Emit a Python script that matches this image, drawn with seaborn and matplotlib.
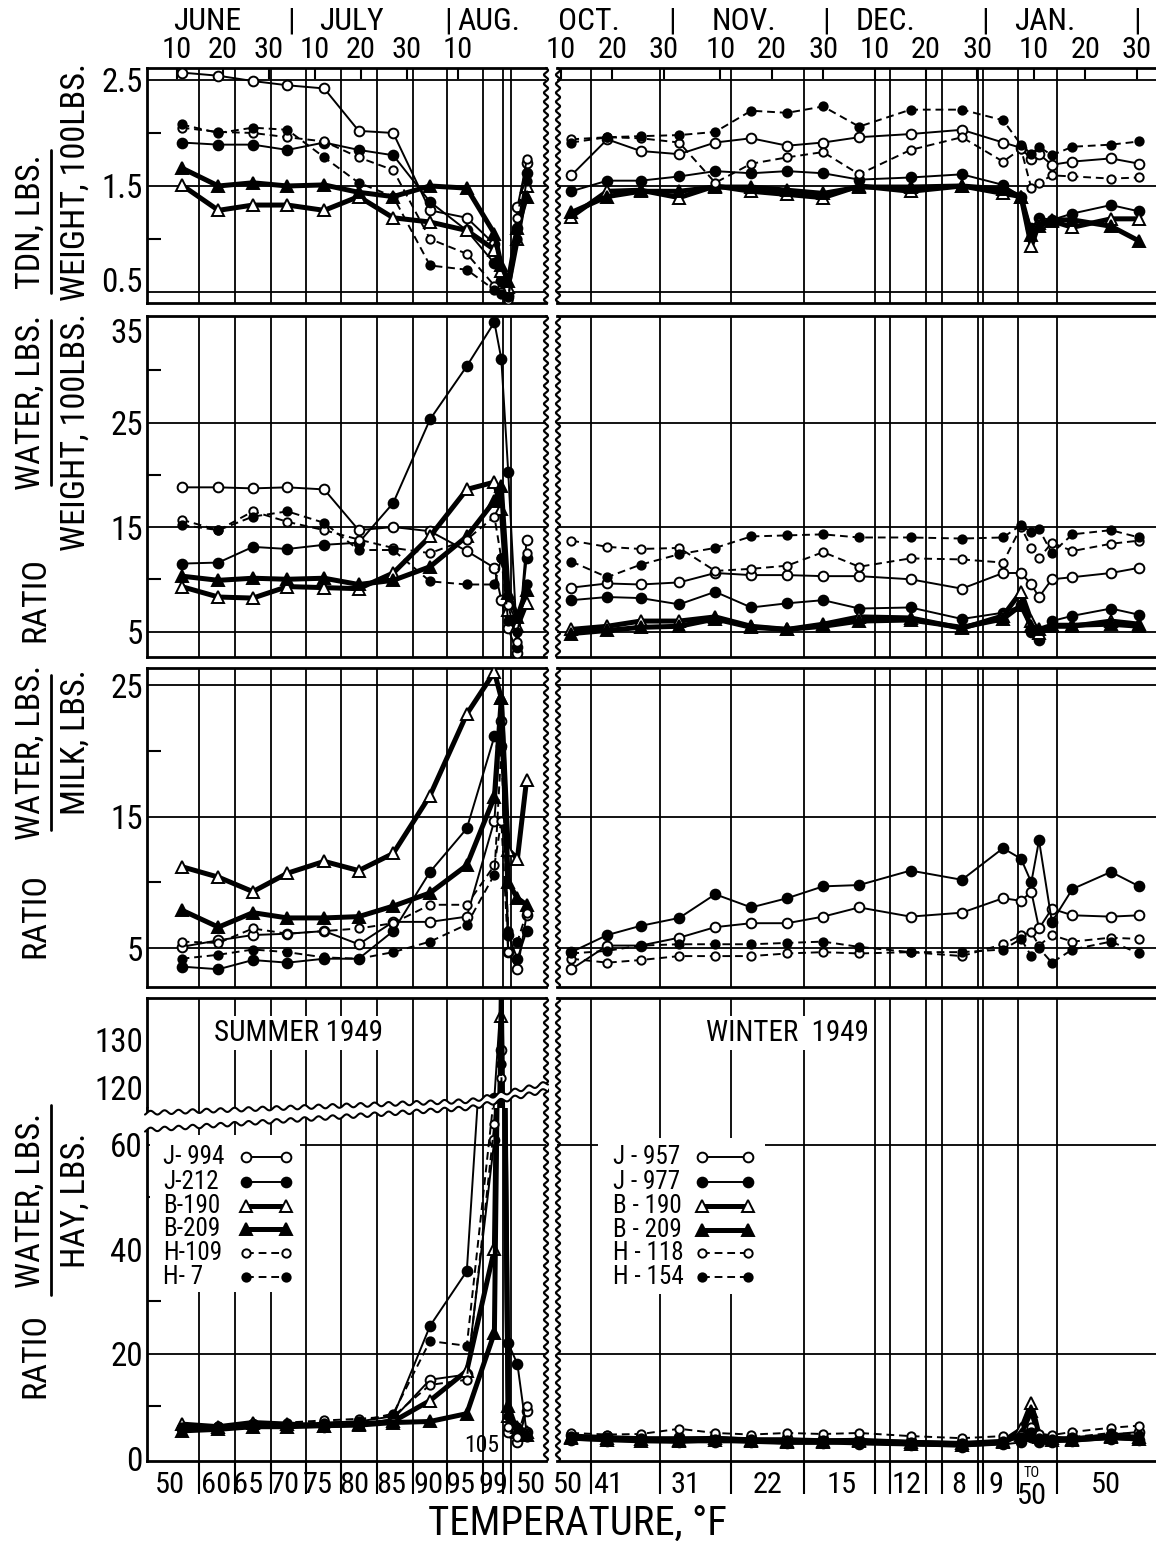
import numpy as np
import pandas as pd
import matplotlib
matplotlib.use('Agg')
import matplotlib.pyplot as plt
import seaborn as sns
from matplotlib import font_manager
from matplotlib.lines import Line2D
from matplotlib.patches import Rectangle, Polygon

# sampling days: summer counted from June 10, winter from Oct 10
summer_days = [1, 9, 16.5, 24, 32, 39.5, 47, 55, 63, 69, 70.5, 72, 74, 76]
winter_days = [2, 9, 15.5, 23, 30, 37, 44, 51, 58, 68, 78, 86, 89.5, 91.5, 93, 95.5, 99.5, 107, 112.5]

summer_cows = ['J-994', 'J-212', 'B-190', 'B-209', 'H-109', 'H-7']
winter_cows = ['J-957', 'J-977', 'B-190', 'B-209', 'H-118', 'H-154']

# TDN lbs per 100 lbs body weight
tdn_summer = {
    'J-994': [2.57, 2.54, 2.49, 2.45, 2.42, 2.02, 2.00, 1.27, 1.20, 0.95, 0.60, 0.45, 1.30, 1.72],
    'J-212': [1.91, 1.89, 1.89, 1.84, 1.91, 1.84, 1.79, 1.35, 1.08, 0.77, 0.60, 0.47, 1.10, 1.62],
    'B-190': [1.51, 1.27, 1.32, 1.32, 1.27, 1.40, 1.20, 1.16, 1.08, 0.90, 0.70, 0.55, 1.00, 1.50],
    'B-209': [1.67, 1.50, 1.53, 1.50, 1.51, 1.44, 1.40, 1.50, 1.48, 1.05, 0.75, 0.60, 1.10, 1.40],
    'H-109': [2.05, 2.01, 2.00, 1.96, 1.92, 1.77, 1.65, 1.00, 0.86, 0.56, 0.50, 0.42, 1.20, 1.75],
    'H-7':   [2.08, 2.00, 2.05, 2.03, 1.77, 1.53, 1.40, 0.75, 0.71, 0.52, 0.48, 0.45, 1.00, 1.55],
}
tdn_winter = {
    'J-957': [1.60, 1.94, 1.83, 1.80, 1.91, 1.95, 1.88, 1.91, 1.96, 1.99, 2.03, 1.91, 1.86, 1.75, 1.80, 1.70, 1.73, 1.76, 1.71],
    'J-977': [1.45, 1.55, 1.55, 1.59, 1.64, 1.62, 1.64, 1.62, 1.56, 1.58, 1.61, 1.51, 1.40, 1.10, 1.20, 1.18, 1.24, 1.32, 1.26],
    'B-190': [1.21, 1.45, 1.46, 1.39, 1.50, 1.45, 1.42, 1.39, 1.50, 1.45, 1.50, 1.43, 1.40, 0.93, 1.15, 1.17, 1.11, 1.19, 1.19],
    'B-209': [1.25, 1.40, 1.45, 1.45, 1.49, 1.49, 1.46, 1.43, 1.49, 1.49, 1.50, 1.47, 1.40, 1.04, 1.12, 1.18, 1.18, 1.12, 0.98],
    'H-118': [1.94, 1.96, 1.95, 1.91, 1.53, 1.71, 1.77, 1.82, 1.61, 1.84, 1.96, 1.73, 1.85, 1.48, 1.53, 1.60, 1.59, 1.57, 1.58],
    'H-154': [1.91, 1.96, 1.97, 1.98, 2.01, 2.21, 2.19, 2.25, 2.06, 2.22, 2.22, 2.12, 1.89, 1.80, 1.87, 1.79, 1.87, 1.89, 1.92],
}

# water lbs per 100 lbs body weight
water_wt_summer = {
    'J-994': [18.8, 18.8, 18.7, 18.8, 18.6, 14.7, 15.0, 14.6, 12.7, 11.1, 8.0, 5.3, 2.9, 13.8],
    'J-212': [11.5, 11.6, 13.1, 12.9, 13.3, 13.5, 17.3, 25.3, 30.4, 34.6, 31.1, 20.3, 3.5, 12.0],
    'B-190': [9.3, 8.3, 8.2, 9.3, 9.2, 9.1, 10.6, 14.1, 18.6, 19.3, 16.7, 7.1, 5.5, 7.7],
    'B-209': [10.3, 9.9, 10.1, 10.0, 10.1, 9.5, 9.9, 11.2, 14.1, 17.5, 18.9, 8.7, 6.4, 9.0],
    'H-109': [15.7, 14.7, 16.5, 15.5, 14.7, 13.8, 13.0, 12.5, 13.8, 16.0, 12.0, 7.5, 4.0, 12.5],
    'H-7':   [15.2, 14.7, 16.0, 16.5, 15.4, 12.8, 12.8, 9.8, 9.5, 9.5, 12.0, 6.0, 5.0, 9.5],
}
water_wt_winter = {
    'J-957': [9.2, 9.6, 9.5, 9.7, 10.6, 10.4, 10.4, 10.3, 10.3, 10.0, 9.1, 10.6, 10.6, 9.5, 8.3, 10.0, 10.2, 10.6, 11.1],
    'J-977': [8.0, 8.3, 8.2, 7.6, 8.8, 7.3, 7.7, 8.0, 7.2, 7.3, 6.2, 6.8, 7.5, 5.0, 4.2, 6.0, 6.5, 7.2, 6.6],
    'B-190': [5.2, 5.5, 6.0, 6.0, 6.4, 5.5, 5.2, 5.7, 6.4, 6.3, 5.3, 6.5, 8.8, 6.0, 4.9, 5.5, 5.5, 6.0, 5.7],
    'B-209': [4.8, 5.1, 5.4, 5.5, 6.2, 5.4, 5.2, 5.5, 6.0, 6.1, 5.4, 6.2, 7.5, 5.5, 5.2, 5.6, 5.6, 5.7, 5.5],
    'H-118': [13.7, 13.1, 12.9, 13.0, 10.8, 11.0, 11.3, 12.6, 11.2, 12.0, 11.9, 11.6, 15.0, 13.0, 12.0, 13.5, 12.7, 13.4, 13.7],
    'H-154': [11.7, 10.2, 11.4, 12.4, 13.0, 14.1, 14.2, 14.3, 14.0, 14.0, 13.9, 14.0, 15.2, 14.5, 14.8, 12.5, 14.3, 14.7, 14.0],
}

# water lbs per lb milk
water_milk_summer = {
    'J-994': [5.1, 5.6, 6.0, 6.1, 6.3, 5.3, 7.0, 7.0, 7.4, 14.7, 22.3, 4.7, 3.4, 7.5],
    'J-212': [3.6, 3.4, 4.1, 3.9, 4.2, 4.2, 6.3, 10.8, 14.1, 21.1, 20.4, 6.0, 4.2, 6.3],
    'B-190': [11.2, 10.4, 9.3, 10.7, 11.6, 10.9, 12.2, 16.6, 22.8, 26.0, 24.0, 12.5, 11.8, 17.8],
    'B-209': [7.9, 6.6, 7.7, 7.3, 7.3, 7.4, 8.2, 9.2, 11.3, 16.5, 24.0, 10.0, 8.8, 8.3],
    'H-109': [5.5, 5.4, 6.5, 6.1, 6.3, 6.5, 6.9, 8.3, 8.3, 11.3, 14.7, 4.7, 5.5, 7.7],
    'H-7':   [4.2, 4.5, 4.9, 4.7, 4.3, 4.2, 4.7, 5.5, 6.8, 10.6, 20.2, 6.3, 5.5, 6.3],
}
water_milk_winter = {
    'J-957': [3.4, 5.2, 5.2, 5.8, 6.6, 6.9, 6.9, 7.4, 8.1, 7.4, 7.7, 8.8, 8.6, 9.3, 6.5, 8.0, 7.5, 7.4, 7.5],
    'J-977': [4.7, 6.0, 6.7, 7.3, 9.1, 8.1, 8.8, 9.7, 9.8, 10.9, 10.2, 12.6, 11.8, 10.0, 13.2, 7.0, 9.5, 10.8, 9.7],
    'H-118': [4.2, 3.9, 4.1, 4.4, 4.4, 4.4, 4.6, 4.7, 4.6, 4.7, 4.4, 5.3, 6.0, 6.2, 5.2, 6.0, 5.5, 5.8, 5.7],
    'H-154': [4.6, 4.8, 5.2, 5.3, 5.3, 5.3, 5.4, 5.5, 5.1, 4.7, 4.7, 4.9, 5.7, 4.4, 5.0, 3.9, 4.9, 5.5, 4.6],
}

# water lbs per lb hay
water_hay_summer = {
    'J-994': [5.5, 5.8, 6.0, 6.3, 6.0, 6.3, 7.5, 15.0, 16.0, 61, 128, 5, 3, 9],
    'J-212': [5.8, 6.0, 6.5, 6.3, 6.8, 7.0, 8.0, 25.3, 35.8, 118, 140, 22, 18, 5],
    'B-190': [6.5, 6.0, 6.8, 6.5, 6.2, 6.5, 7.0, 11.0, 16.7, 40, 135, 8, 6, 5],
    'B-209': [5.2, 5.5, 6.0, 6.0, 6.2, 6.3, 6.8, 7.0, 8.5, 24, 140, 10, 5, 4.5],
    'H-109': [6.0, 6.2, 6.5, 6.8, 7.2, 7.5, 8.0, 14.0, 15.0, 64, 122, 6, 4, 10],
    'H-7':   [5.8, 6.0, 6.3, 6.5, 6.8, 7.0, 8.5, 22.4, 21.5, 70, 125, 8, 6, 4],
}
water_hay_winter = {
    'J-957': [4.5, 4.2, 4.0, 4.0, 4.0, 3.8, 3.8, 3.6, 3.5, 3.3, 3.0, 3.2, 3.8, 5.0, 4.0, 3.8, 4.0, 4.5, 5.0],
    'J-977': [3.5, 3.3, 3.2, 3.0, 3.0, 3.0, 2.8, 2.8, 2.6, 2.4, 2.2, 2.6, 3.0, 4.0, 3.0, 3.0, 3.2, 3.6, 3.4],
    'B-190': [4.0, 3.8, 3.6, 3.5, 3.8, 3.4, 3.3, 3.3, 3.4, 3.0, 2.8, 3.2, 5.5, 10.5, 4.5, 3.8, 3.6, 4.2, 4.0],
    'B-209': [3.8, 3.5, 3.3, 3.2, 3.5, 3.2, 3.0, 3.0, 3.2, 2.7, 2.5, 3.0, 4.5, 9.0, 4.0, 3.5, 3.4, 4.0, 3.6],
    'H-118': [4.8, 4.5, 4.6, 5.6, 4.8, 4.5, 4.8, 4.6, 4.8, 4.2, 3.8, 4.2, 4.5, 6.0, 4.6, 4.4, 5.0, 5.8, 6.2],
    'H-154': [4.2, 4.0, 3.8, 3.8, 3.6, 3.6, 3.5, 3.4, 3.2, 3.0, 2.8, 3.2, 4.0, 5.0, 3.8, 3.6, 4.0, 4.8, 4.5],
}

# period boundaries (vertical rules)
summer_grid = [4.8, 12.6, 20.4, 28, 35.7, 43.5, 51.3, 58.7, 66.5, 70.9, 72.6]
winter_grid = [5.8, 19.3, 33.1, 47.3, 61.1, 64, 71, 74.1, 81.1, 82.1, 88.9, 96.5]

summer_temp_pos = [-1.5, 8.5, 15.4, 23.5, 30.7, 38.5, 46.5, 54.6, 61.7, 68.7, 77]
summer_temps = ['50', '60', '65', '70', '75', '80', '85', '90', '95', '99', '50']
winter_temp_pos = [1.4, 9.1, 24.3, 40.1, 54.5, 67.3, 77.4, 84.6, 91.6, 106]
winter_temps = ['50', '41', '31', '22', '15', '12', '8', '9', '', '50']

summer_date_pos = [0, 10, 20, 30, 40, 50, 61]
summer_date_lbl = ['10', '20', '30', '10', '20', '30', '10']
winter_date_pos = [0, 10, 20, 31, 41, 51, 61, 71, 81, 92, 102, 112]
winter_date_lbl = ['10', '20', '30'] * 4
summer_months = [('JUNE', 6.5), ('|', 24.8), ('JULY', 38), ('|', 59), ('AUG.', 67.8)]
winter_months = [('OCT.', 5.4), ('|', 21.6), ('NOV.', 35.6), ('|', 51.6), ('DEC.', 63.2),
                 ('|', 82.5), ('JAN.', 94.2), ('|', 112)]

line_styles = [
    dict(linestyle='-', linewidth=1.4, marker='o', markerfacecolor='white', markersize=7),
    dict(linestyle='-', linewidth=1.4, marker='o', markerfacecolor='black', markersize=7),
    dict(linestyle='-', linewidth=3.6, marker='^', markerfacecolor='white', markersize=8),
    dict(linestyle='-', linewidth=3.6, marker='^', markerfacecolor='black', markersize=8),
    dict(linestyle=(0, (4, 2.5)), linewidth=1.4, marker='o', markerfacecolor='white', markersize=6),
    dict(linestyle=(0, (4, 2.5)), linewidth=1.4, marker='o', markerfacecolor='black', markersize=6),
]

sns.set_theme(style='white')
# the original lettering is very narrow, use a narrow face when one exists
fonts = font_manager.fontManager.ttflist
names = {f.name for f in fonts}
narrow = [n for n in ['Liberation Sans Narrow', 'Roboto Condensed', 'Open Sans Condensed',
                      'DejaVu Sans Condensed', 'Noto Sans Condensed'] if n in names]
stretched = [f.name for f in fonts if f.stretch not in ('normal', 'medium')
             and f.name in ('DejaVu Sans', 'Noto Sans', 'Open Sans', 'Roboto')]
if narrow:
    fam, k = narrow[0], 0.95
    plt.rcParams['font.family'] = [fam, 'DejaVu Sans']
elif stretched:
    fam, k = stretched[0], 0.86
    plt.rcParams['font.family'] = [fam, 'DejaVu Sans']
    plt.rcParams['font.stretch'] = 'condensed'
else:
    fam, k = 'DejaVu Sans', 0.74
    plt.rcParams['font.family'] = [fam]
plt.rcParams['text.color'] = 'black'
plt.rcParams['xtick.color'] = 'black'
plt.rcParams['ytick.color'] = 'black'

W, H = 1156, 1541
fig = plt.figure(figsize=(W / 100, H / 100), dpi=100)
fig.patch.set_facecolor('white')


def box(x0, y0, x1, y1):
    return [x0 / W, 1 - y1 / H, (x1 - x0) / W, (y1 - y0) / H]


LX = (147, 546)
RX = (557, 1170)
LXLIM = ((LX[0] - 177) / 4.6, (LX[1] - 177) / 4.6)
RXLIM = ((RX[0] - 561) / 5.14, (RX[1] - 561) / 5.14)


def draw_series(ax, days, values, style):
    df = pd.DataFrame({'day': days, 'value': values})
    sns.lineplot(data=df, x='day', y='value', ax=ax, color='black',
                 markeredgecolor='black', markeredgewidth=1.4,
                 estimator=None, sort=False, zorder=3, **style)


def setup(ax, side, ylim, hlines, major=None, labels=None, minor=None):
    ax.set_facecolor('white')
    ax.set_xlim(LXLIM if side == 'L' else RXLIM)
    ax.set_ylim(ylim)
    ax.set_xlabel('')
    ax.set_ylabel('')
    for s in ax.spines.values():
        s.set_linewidth(2)
        s.set_color('black')
    ax.spines['right' if side == 'L' else 'left'].set_visible(False)
    for g in (summer_grid if side == 'L' else winter_grid):
        ax.axvline(g, color='black', lw=1.3, zorder=1)
    for h in hlines:
        ax.axhline(h, color='black', lw=1.3, zorder=1)
    ax.set_xticks([])
    if side == 'L' and major is not None:
        ax.set_yticks(major)
        ax.set_yticklabels(labels, fontsize=25 * k)
        ax.tick_params(axis='y', which='major', length=0, pad=3)
        if minor:
            ax.set_yticks(minor, minor=True)
            ax.tick_params(axis='y', which='minor', direction='in', length=10, width=1.5, left=True)
    else:
        ax.set_yticks([])


def wave_x(x_px, y0, y1, amp=2.0, period=9):
    ys = np.arange(y0, y1 + 0.5, 0.5)
    xs = x_px + amp * np.sin(2 * np.pi * (ys - y0) / period)
    fig.add_artist(Line2D(xs / W, 1 - ys / H, color='black', lw=1.6, zorder=6))


rows = [
    ((68, 303), (0.396, 2.613), [2.5, 1.5, 0.5], [2.5, 1.5, 0.5], ['2.5', '1.5', '0.5'], [2.0, 1.0],
     tdn_summer, tdn_winter),
    ((316, 657), (2.56, 35.2), [25, 15, 5], [35, 25, 15, 5], ['35', '25', '15', '5'], [30, 20, 10],
     water_wt_summer, water_wt_winter),
    ((668, 987), (2.05, 26.3), [25, 15, 5], [25, 15, 5], ['25', '15', '5'], [20, 10],
     water_milk_summer, water_milk_winter),
]

style_of = {c: line_styles[i] for i, c in enumerate(summer_cows)}
style_of_w = {c: line_styles[i] for i, c in enumerate(winter_cows)}

left_axes = []
top_axes = []
for (y0, y1), ylim, hl, major, lbls, minor, sdata, wdata in rows:
    axl = fig.add_axes(box(LX[0], y0, LX[1], y1))
    for cow, vals in sdata.items():
        draw_series(axl, summer_days, vals, style_of[cow])
    setup(axl, 'L', ylim, hl, major, lbls, minor)
    left_axes.append(axl)
    axr = fig.add_axes(box(RX[0], y0, RX[1], y1))
    for cow, vals in wdata.items():
        draw_series(axr, winter_days, vals, style_of_w[cow])
    setup(axr, 'R', ylim, hl)
    wave_x(546, y0, y1)
    wave_x(558, y0, y1)
    if not top_axes:
        top_axes = [axl, axr]

# keep the end labels of neighbouring rows apart, as in the original
left_axes[0].get_yticklabels()[-1].set_verticalalignment('baseline')
left_axes[1].get_yticklabels()[0].set_verticalalignment('top')

# row 4: broken axis, upper 120-130 part and lower 0-60 part
r4_up, r4_lo = (998, 1108), (1108, 1461)
ax4 = {}
for side, X, data, days, sty in [('L', LX, water_hay_summer, summer_days, style_of),
                                 ('R', RX, water_hay_winter, winter_days, style_of_w)]:
    up = fig.add_axes(box(X[0], r4_up[0], X[1], r4_up[1]))
    lo = fig.add_axes(box(X[0], r4_lo[0], X[1], r4_lo[1]))
    for cow, vals in data.items():
        draw_series(up, days, vals, sty[cow])
        draw_series(lo, days, vals, sty[cow])
    setup(up, side, (115.83, 138.75), [], [130, 120], ['130', '120'], None)
    setup(lo, side, (-0.57, 67.05), [60, 20], [60, 40, 20, 0], ['60', '40', '20', '0'], [50, 30, 10])
    up.spines['bottom'].set_visible(False)
    lo.spines['top'].set_visible(False)
    ax4[side] = (up, lo)
    wave_x(546 if side == 'L' else 558, r4_up[0], r4_lo[1])

# top date scale
for ax, pos, lbl, months in [(top_axes[0], summer_date_pos, summer_date_lbl, summer_months),
                             (top_axes[1], winter_date_pos, winter_date_lbl, winter_months)]:
    ax.set_xticks(pos)
    ax.set_xticklabels(lbl, fontsize=23 * k)
    ax.tick_params(axis='x', which='major', top=True, bottom=False, labeltop=True,
                   labelbottom=False, direction='in', length=8, width=1.5, pad=3)
    for txt, d in months:
        ax.text(d, 1.2, txt, transform=ax.get_xaxis_transform(), ha='center', va='center',
                fontsize=24 * k)

# bottom temperature scale
for side, pos, lbl in [('L', summer_temp_pos, summer_temps), ('R', winter_temp_pos, winter_temps)]:
    lo = ax4[side][1]
    lo.set_xticks(pos)
    lo.set_xticklabels(lbl, fontsize=23 * k)
    lo.tick_params(axis='x', which='major', bottom=True, length=0, pad=7)
    lo.set_xticks(summer_grid if side == 'L' else winter_grid, minor=True)
    lo.tick_params(axis='x', which='minor', bottom=True, direction='out', length=24, width=1.5)

fig.text(1032 / W, 1 - 1473 / H, 'TO', fontsize=11 * k, ha='center', va='center')
fig.text(1032 / W, 1 - 1496 / H, '50', fontsize=23 * k, ha='center', va='center')
fig.text(577 / W, 1 - 1523 / H, 'TEMPERATURE, °F', fontsize=31 * k, ha='center', va='center')

# break band on the summer hay panel
bx = np.arange(145, 549, 1.0)
ripple = 2.0 * np.sin(2 * np.pi * bx / 14)
top_edge = np.interp(bx, [145, 470, 548], [1113, 1101, 1083]) + ripple
bot_edge = np.interp(bx, [145, 470, 548], [1130, 1108, 1090]) + ripple
pts = np.vstack([np.column_stack([bx, top_edge]), np.column_stack([bx[::-1], bot_edge[::-1]])])
fig.add_artist(Polygon(np.column_stack([pts[:, 0] / W, 1 - pts[:, 1] / H]), closed=True,
                       facecolor='white', edgecolor='none', zorder=7))
for edge in (top_edge, bot_edge):
    fig.add_artist(Line2D(bx / W, 1 - edge / H, color='black', lw=1.5, zorder=8))

# season titles, the rules stop behind them
title_box = dict(facecolor='white', edgecolor='none', pad=2)
fig.text(298 / W, 1 - 1033 / H, 'SUMMER 1949', fontsize=22 * k, ha='center', va='center',
         bbox=title_box)
fig.text(787 / W, 1 - 1033 / H, 'WINTER  1949', fontsize=22 * k, ha='center', va='center',
         bbox=title_box)
fig.text(482 / W, 1 - 1445 / H, '105', fontsize=18 * k, ha='center', va='center')

# legends
legend_sets = [
    (['J- 994', 'J-212', 'B-190', 'B-209', 'H-109', 'H- 7'], 163, (246, 286),
     [1157, 1182, 1206, 1229, 1253, 1277], (150, 1135, 300, 1292)),
    (['J - 957', 'J - 977', 'B - 190', 'B - 209', 'H - 118', 'H - 154'], 613, (702, 748),
     [1157, 1182, 1206, 1230, 1253, 1277], (598, 1138, 765, 1294)),
]
for lbls, tx, (lx0, lx1), ys, (bx0, by0, bx1, by1) in legend_sets:
    fig.add_artist(Rectangle((bx0 / W, 1 - by1 / H), (bx1 - bx0) / W, (by1 - by0) / H,
                             facecolor='white', edgecolor='none', zorder=3))
    for i, (lab, yy) in enumerate(zip(lbls, ys)):
        fig.text(tx / W, 1 - yy / H, lab, fontsize=19 * k, ha='left', va='center', zorder=4)
        st = dict(line_styles[i])
        fig.add_artist(Line2D([lx0 / W, lx1 / W], [1 - yy / H, 1 - yy / H], color='black',
                              markeredgecolor='black', markeredgewidth=1.4, zorder=4, **st))

# y-axis titles written as fractions
ylab = [
    [('TDN, LBS.', 31, 222), ('WEIGHT, 100LBS.', 76, 182)], (51, 150, 293),
    [('RATIO', 35, 600), ('WATER, LBS.', 31, 402), ('WEIGHT, 100LBS.', 76, 432)], (51, 320, 485),
    [('RATIO', 35, 915), ('WATER, LBS.', 31, 752), ('MILK, LBS.', 76, 742)], (51, 675, 830),
    [('RATIO', 35, 1355), ('WATER, LBS.', 31, 1200), ('HAY, LBS.', 76, 1200)], (51, 1105, 1295),
]
for texts, (bar_x, b0, b1) in zip(ylab[0::2], ylab[1::2]):
    for txt, x, y in texts:
        fig.text(x / W, 1 - y / H, txt, rotation=90, fontsize=26 * k, ha='center', va='center')
    fig.add_artist(Line2D([bar_x / W, bar_x / W], [1 - b0 / H, 1 - b1 / H], color='black', lw=2))

fig.savefig('out.png', dpi=100, facecolor='white')
